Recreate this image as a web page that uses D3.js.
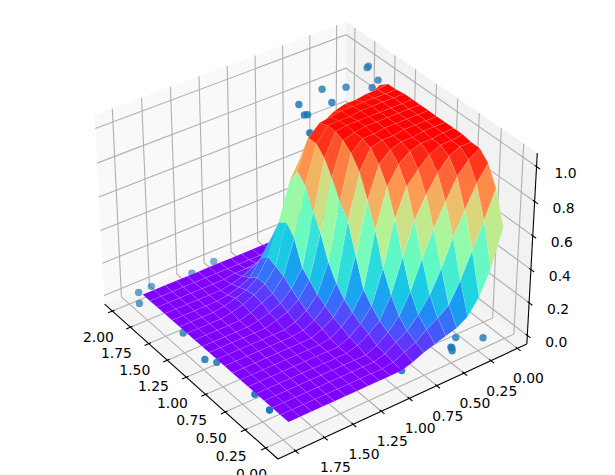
<!DOCTYPE html>
<html><head><meta charset="utf-8">
<script src="https://cdn.jsdelivr.net/npm/d3@7/dist/d3.min.js"></script>
<style>html,body{margin:0;background:#fff}svg{display:block}text{font-family:"DejaVu Sans";fill:#000}</style></head>
<body><svg id="c" width="615" height="475"></svg>
<script>
const xTicks=[0,.25,.5,.75,1,1.25,1.5,1.75,2];
const yTicks=[0,.25,.5,.75,1,1.25,1.5,1.75,2];
const zTicks=[0,.2,.4,.6,.8,1];
const scatterX=[.05,.07,.52,.36,.11,.21,.78,.57,.83,.81,.65,.94,.37,1.92,1.80,1.99,1.93,1.98,1.93,1.92,1.94,1.24,1.46,.19,.35,.45,.45,.47,.91];
const scatterY=[1.64,1.63,1.58,1.50,1.44,1.38,1.51,1.39,1.37,1.36,1.19,1.15,1.28,1.99,2.00,1.87,1.37,1.01,.93,.46,.25,1.99,1.96,.02,.14,.07,.06,.03,.06];
const scatterZ=[1,1,1,1,1,1,1,1,1,1,1,1,1,0,0,0,0,0,0,0,0,0,0,0,0,0,0,0,0];
const gridX=[.01,.11,.21,.31,.41,.51,.61,.71,.81,.91,1.01,1.11,1.21,1.31,1.41,1.51,1.61,1.71,1.81,1.91];
const gridY=[.06,.16,.26,.36,.46,.56,.66,.76,.86,.96,1.06,1.15,1.25,1.35,1.45,1.55,1.65,1.75,1.85,1.95];
const surfaceZ=[
[.60,.38,.24,.15,.11,.09,.07,.05,.02,0,0,0,0,0,0,0,0,0,0,0],
[.79,.63,.48,.33,.21,.16,.12,.07,.04,.01,0,0,0,0,0,0,0,0,0,0],
[.90,.81,.68,.55,.39,.26,.17,.10,.06,.02,0,0,0,0,0,0,0,0,0,0],
[.95,.91,.84,.72,.59,.44,.27,.15,.08,.03,0,0,0,0,0,0,0,0,0,0],
[.95,.95,.92,.85,.75,.63,.44,.24,.11,.06,.02,0,0,0,0,0,0,0,0,0],
[.96,.95,.95,.92,.86,.79,.63,.36,.16,.08,.03,0,0,0,0,0,0,0,0,0],
[.96,.96,.95,.95,.93,.88,.78,.55,.22,.11,.05,.01,0,0,0,0,0,0,0,0],
[.96,.96,.96,.95,.95,.93,.87,.69,.39,.15,.07,.03,0,0,0,0,0,0,0,0],
[.96,.96,.96,.96,.95,.95,.93,.82,.56,.21,.10,.04,.01,0,0,0,0,0,0,0],
[.96,.96,.96,.96,.96,.95,.95,.89,.64,.30,.13,.06,.02,0,0,0,0,0,0,0],
[.96,.96,.96,.96,.96,.96,.95,.93,.74,.44,.18,.09,.04,.02,0,0,0,0,0,0],
[.96,.96,.96,.96,.96,.96,.96,.95,.82,.53,.22,.12,.06,.03,.01,0,0,0,0,0],
[.96,.96,.96,.96,.96,.95,.95,.95,.87,.65,.36,.16,.08,.05,.02,0,0,0,0,0],
[.95,.95,.95,.95,.95,.95,.94,.93,.87,.70,.42,.18,.10,.06,.03,.01,0,0,0,0],
[.95,.94,.94,.93,.93,.91,.87,.83,.72,.60,.38,.20,.10,.05,.03,.01,0,0,0,0],
[.91,.87,.83,.79,.75,.70,.64,.57,.50,.36,.25,.15,.06,.03,.01,0,0,0,0,0],
[.71,.64,.57,.50,.44,.37,.32,.27,.21,.16,.10,.06,.03,.01,0,0,0,0,0,0],
[.37,.32,.27,.21,.16,.11,.09,.07,.05,.03,.02,.01,.01,0,0,0,0,0,0,0],
[.11,.09,.07,.05,.04,.02,.01,.01,.01,0,0,0,0,0,0,0,0,0,0,0],
[.02,.01,.01,.01,0,0,0,0,0,0,0,0,0,0,0,0,0,0,0,0]];
const P={el:34.313,th:53.972,d:8.744,sx:2705.6,sy:2738.5,cx:313.552,cy:231.092,k:.734};
function proj(f){const r=Math.PI/180,e=P.el*r,t=P.th*r,c=Math.cos(t),s=Math.sin(t);
 const a=f[0]-.5,b=f[1]-.5,z=(f[2]-.5)*P.k;const h=a*c-b*s,u=-a*s-b*c;
 const n=h*Math.cos(e)+z*Math.sin(e),v=-h*Math.sin(e)+z*Math.cos(e),w=P.d-n;
 return [P.cx+P.sx*u/w,P.cy-P.sy*v/w,n];}
const x=d3.scaleLinear([-.09,2.15],[0,1]),y=d3.scaleLinear([-.15,2.11],[0,1]),z=d3.scaleLinear([-.053,1.077],[0,1]);
const pt=(a,b,c)=>proj([x(a),y(b),z(c)]);
const svg=d3.select('#c');
const gridC='#b0b0b0';
function poly(fs,fill){svg.append('polygon').attr('points',fs.map(f=>proj(f).slice(0,2).join(',')).join(' ')).attr('fill',fill);}
poly([[1,1,0],[0,1,0],[0,1,1],[1,1,1]],'#f9f9f9');
poly([[0,0,0],[0,1,0],[0,1,1],[0,0,1]],'#f2f2f2');
poly([[1,0,0],[1,1,0],[0,1,0],[0,0,0]],'#f5f5f5');
function line(a,b,col,w){const p=proj(a),q=proj(b);svg.append('line').attr('x1',p[0]).attr('y1',p[1]).attr('x2',q[0]).attr('y2',q[1]).attr('stroke',col).attr('stroke-width',w);}
function path(fs,col,w){svg.append('path').attr('d',d3.line()(fs.map(f=>proj(f).slice(0,2)))).attr('fill','none').attr('stroke',col).attr('stroke-width',w);}
xTicks.forEach(t=>path([[x(t),0,0],[x(t),1,0],[x(t),1,1]],gridC,1.1));
yTicks.forEach(t=>path([[1,y(t),0],[0,y(t),0],[0,y(t),1]],gridC,1.1));
zTicks.forEach(t=>path([[0,0,z(t)],[0,1,z(t)],[1,1,z(t)]],gridC,1.1));
line([1,0,0],[0,0,0],'#000',1.1);line([1,1,0],[1,0,0],'#000',1.1);line([0,0,0],[0,0,1],'#000',1.1);
const lab=(p,dx,dy,s)=>svg.append('text').attr('x',p[0]+dx).attr('y',p[1]+dy).attr('text-anchor','middle').attr('dominant-baseline','central').attr('font-size',13.9).text(s);
xTicks.forEach(t=>{line([x(t),-.0167,0],[x(t),.0083,0],'#000',1.1);lab(proj([x(t),0,0]),11,30,t.toFixed(2));});
yTicks.forEach(t=>{line([1.0167,y(t),0],[.9917,y(t),0],'#000',1.1);lab(proj([1,y(t),0]),-14,26,t.toFixed(2));});
zTicks.forEach(t=>{line([0,-.0167,z(t)],[0,.0083,z(t)],'#000',1.1);lab(proj([0,0,z(t)]),29,6.5,t.toFixed(1));});
const ds=scatterX.map((_,i)=>pt(scatterX[i],scatterY[i],scatterZ[i])[2]);const dn=d3.scaleLinear(d3.extent(ds),[.58,1]);
scatterX.forEach((_,i)=>{const q=pt(scatterX[i],scatterY[i],scatterZ[i]);svg.append('circle').attr('cx',q[0]).attr('cy',q[1]).attr('r',3.7).attr('fill','#1f77b4').attr('opacity',dn(ds[i]));});
const rb0=d3.range(0,1.01,.1);
const rbm=d3.scaleLinear(rb0,rb0.map(t=>d3.rgb(255*Math.abs(2*t-.5),255*Math.sin(Math.PI*t),255*Math.cos(Math.PI*t/2)).formatHex()));
const rb=v=>rbm(v/.96);
const q=[];for(let i=0;i<19;i++)for(let j=0;j<19;j++){const c=[[i,j],[i+1,j],[i+1,j+1],[i,j+1]].map(([a,b])=>[gridX[a],gridY[b],surfaceZ[b][a]]);
 const av=d3.mean(c,d=>d[2]);const ps=c.map(d=>pt(d[0],d[1],d[2]));q.push({ps,av,dp:d3.mean(ps,p=>p[2])});}
q.sort((a,b)=>a.dp-b.dp).forEach(o=>svg.append('polygon').attr('points',o.ps.map(p=>p[0]+','+p[1]).join(' ')).attr('fill',rb(o.av)).attr('stroke','rgba(255,255,255,.18)').attr('stroke-width',.6));
</script></body></html>
